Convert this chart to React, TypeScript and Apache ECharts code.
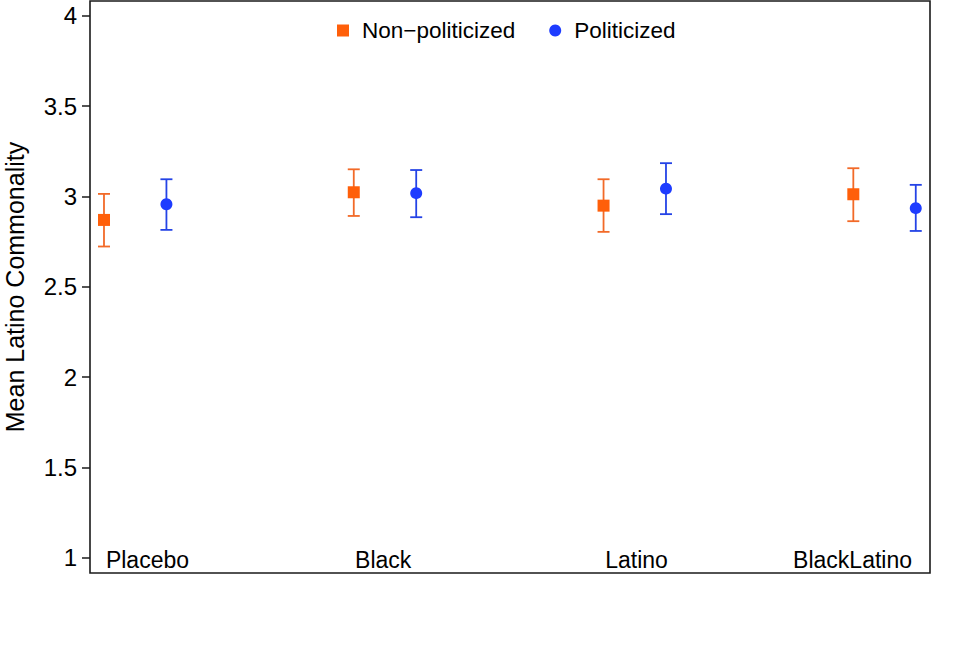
import React, { useEffect, useRef } from "react";
import * as echarts from "echarts";

const groups = ["Placebo", "Black", "Latino", "BlackLatino"];
const groupLabelX = [1.174, 2.118, 3.132, 3.997];
const nonPolX = [1, 2, 3, 4];
const polX = [1.25, 2.25, 3.25, 4.25];
const nonPolMean = [2.87, 3.023, 2.949, 3.012];
const nonPolLow = [2.723, 2.892, 2.804, 2.863];
const nonPolHigh = [3.014, 3.15, 3.095, 3.156];
const polMean = [2.957, 3.018, 3.043, 2.935];
const polLow = [2.815, 2.885, 2.902, 2.809];
const polHigh = [3.095, 3.146, 3.184, 3.064];
const yTicks = [1, 1.5, 2, 2.5, 3, 3.5, 4];

const ORANGE = "#FF5F0A";
const ORANGE_LINE = "#F26A28";
const BLUE = "#1E3CFF";
const BLUE_LINE = "#2443E6";
const FONT = "'Liberation Sans', Arial, Helvetica, sans-serif";

function errorSeries(xs: number[], lows: number[], highs: number[], color: string) {
  return {
    type: "custom",
    silent: true,
    z: 2,
    data: xs.map((x, i) => [x, lows[i], highs[i]]),
    renderItem: (params: any, api: any) => {
      const x = api.value(0);
      const lo = api.coord([x, api.value(1)]);
      const hi = api.coord([x, api.value(2)]);
      const hw = 6;
      const style = { stroke: color, lineWidth: 1.8 };
      return {
        type: "group",
        children: [
          { type: "line", shape: { x1: lo[0], y1: lo[1], x2: hi[0], y2: hi[1] }, style },
          { type: "line", shape: { x1: lo[0] - hw, y1: lo[1], x2: lo[0] + hw, y2: lo[1] }, style },
          { type: "line", shape: { x1: hi[0] - hw, y1: hi[1], x2: hi[0] + hw, y2: hi[1] }, style },
        ],
      };
    },
  };
}

export default function App() {
  const ref = useRef<HTMLDivElement>(null);
  useEffect(() => {
    document.body.style.margin = "0";
    const chart = echarts.init(ref.current!, null, { renderer: "svg" });
    chart.setOption({
      animation: false,
      backgroundColor: "#ffffff",
      textStyle: { fontFamily: FONT },
      grid: {
        left: 90,
        top: 1,
        width: 840,
        height: 572,
        show: true,
        borderColor: "#1a1a1a",
        borderWidth: 1.6,
        containLabel: false,
        outerBoundsMode: "none",
      },
      legend: {
        data: [
          { name: "Non\u2212politicized", icon: "rect" },
          { name: "Politicized", icon: "circle" },
        ],
        left: 337,
        top: 19,
        padding: 0,
        itemWidth: 12,
        itemHeight: 12,
        itemGap: 34,
        textStyle: { fontSize: 22.5, color: "#000", fontFamily: FONT, padding: [0, 0, 0, 8] },
        selectedMode: false,
      },
      xAxis: {
        type: "value",
        min: 0.944,
        max: 4.307,
        axisLine: { show: false },
        axisTick: { show: false },
        axisLabel: { show: false },
        splitLine: { show: false },
      },
      yAxis: {
        type: "value",
        min: 0.917,
        max: 4.081,
        name: "Mean Latino Commonality",
        nameLocation: "middle",
        nameRotate: 90,
        nameGap: 63,
        nameTextStyle: { fontSize: 25, color: "#000", fontFamily: FONT },
        axisLine: { show: false },
        axisTick: {
          show: true,
          inside: false,
          length: 8,
          lineStyle: { color: "#1a1a1a", width: 1.5 },
          customValues: yTicks,
        },
        axisLabel: {
          show: true,
          margin: 13,
          fontSize: 24,
          color: "#000",
          fontFamily: FONT,
          customValues: yTicks,
          formatter: (v: number) => String(v),
        },
        splitLine: { show: false },
      },
      series: [
        errorSeries(nonPolX, nonPolLow, nonPolHigh, ORANGE_LINE),
        errorSeries(polX, polLow, polHigh, BLUE_LINE),
        {
          name: "Non\u2212politicized",
          type: "scatter",
          symbol: "rect",
          symbolSize: 12,
          z: 3,
          itemStyle: { color: ORANGE, opacity: 1 },
          data: nonPolX.map((x, i) => [x, nonPolMean[i]]),
        },
        {
          name: "Politicized",
          type: "scatter",
          symbol: "circle",
          symbolSize: 12,
          z: 3,
          itemStyle: { color: BLUE, opacity: 1 },
          data: polX.map((x, i) => [x, polMean[i]]),
        },
        {
          name: "groupLabels",
          type: "scatter",
          symbolSize: 0,
          silent: true,
          itemStyle: { opacity: 1, color: "#000" },
          data: groups.map((g, i) => ({ name: g, value: [groupLabelX[i], 0.99] })),
          label: {
            show: true,
            position: "inside",
            formatter: "{b}",
            fontSize: 23,
            color: "#000",
            opacity: 1,
            fontFamily: FONT,
          },
        },
      ],
    });
    return () => chart.dispose();
  }, []);
  return <div ref={ref} style={{ width: 961, height: 647 }} />;
}
